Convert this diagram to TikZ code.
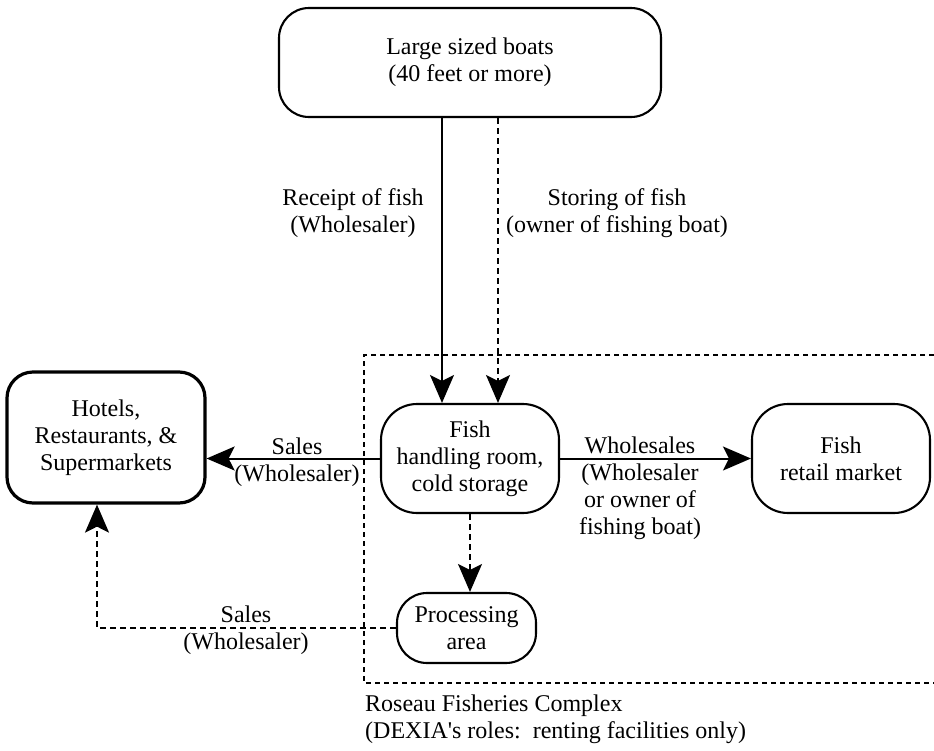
\documentclass[tikz,border=0pt]{standalone}
\usepackage{fontspec}
\setmainfont{Liberation Serif}
\usetikzlibrary{arrows.meta,calc}
\begin{document}
\begin{tikzpicture}[x=1pt,y=-1pt,
  every node/.style={font=\fontsize{24}{27}\selectfont, align=center, inner sep=0pt},
  box/.style={draw, line width=2.1pt, rounded corners=#1},
  box/.default=30pt,
  flow/.style={line width=2pt, -{Stealth[length=28pt,width=24pt,inset=6pt]}},
  dflow/.style={flow, line width=1.8pt, dash pattern=on 6pt off 4pt},
  region/.style={line width=1.6pt, dash pattern=on 5pt off 4pt}]
\useasboundingbox (0,0) rectangle (934,750);

% facility boundary (open on the right)
\draw[region] (934,355) -- (364,355) -- (364,683) -- (934,683);

% nodes
\node[box=30pt, minimum width=382pt, minimum height=109pt] (boats) at (470,62.5)
  {Large sized boats\\(40 feet or more)};
\node[box=26pt, line width=3.2pt, minimum width=198pt, minimum height=131pt] (hotels) at (106,437.5)
  {Hotels,\\Restaurants, \&\\Supermarkets};
\node[box=36pt, minimum width=178pt, minimum height=109pt] (fish) at (470,458.5)
  {Fish\\handling room,\\cold storage};
\node[box=36pt, minimum width=178pt, minimum height=109pt] (retail) at (841,458.5)
  {Fish\\retail market};
\node[box=30pt, minimum width=139pt, minimum height=70pt] (proc) at (466.5,628)
  {Processing\\area};

% flows
\draw[flow] ([xshift=-28pt]boats.south) -- ([xshift=-28pt]fish.north);
\draw[dflow] ([xshift=28pt]boats.south) -- ([xshift=28pt]fish.north);
\draw[flow] (fish.west) -- (fish.west -| hotels.east);
\draw[flow] (fish.east) -- (retail.west);
\draw[dflow] (fish.south) -- (fish.south |- proc.north);
\draw[dflow] (proc.west) -| ([xshift=-9pt]hotels.south);

% labels
\node (lreceipt) at (353,213.5) {Receipt of fish\\(Wholesaler)};
\node (lstoring) at (617,213.5) {Storing of fish\\(owner of fishing boat)};
\node (lsales) at (297,462) {Sales\\(Wholesaler)};
\node (lwhole) at (640,488) {Wholesales\\(Wholesaler\\or owner of\\fishing boat)};
\node (lsales2) at (246,630) {Sales\\(Wholesaler)};
\node[anchor=west, align=left] (lcomplex) at (365,719.5)
  {Roseau Fisheries Complex\\(DEXIA\textquotesingle s roles:\ \ renting facilities only)};
\end{tikzpicture}
\end{document}
